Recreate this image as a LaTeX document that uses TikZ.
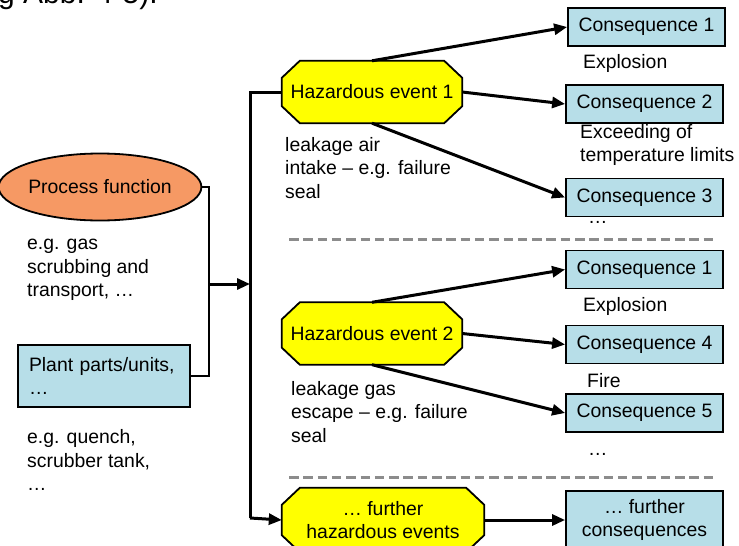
\documentclass[tikz,border=0pt]{standalone}
\usepackage{fontspec}
\setmainfont{Liberation Sans}
\usetikzlibrary{shapes.geometric,arrows.meta,backgrounds}
\definecolor{boxblue}{RGB}{183,222,232}
\definecolor{procorange}{RGB}{246,153,100}
\definecolor{hazyellow}{RGB}{255,255,0}
\definecolor{sepgrey}{RGB}{140,140,140}
\tikzset{
  txt/.style={font=\fontsize{19.4}{23.5}\selectfont},
  note/.style={txt, anchor=west, align=left, inner sep=0pt},
  consbox/.style={txt, draw=black, line width=1.8pt, fill=boxblue, minimum width=157pt, minimum height=38pt, inner sep=0pt, align=center},
  haznode/.style={txt, minimum width=180pt, minimum height=62pt, inner sep=0pt, align=center},
  octo/.style={draw=black, line width=1.8pt, fill=hazyellow},
  conn/.style={line width=3pt, -{Triangle[length=13pt,width=11pt]}},
  thinline/.style={line width=1.8pt},
  barline/.style={line width=3pt},
  sep/.style={line width=3pt, sepgrey, dash pattern=on 9.5pt off 4.8pt}
}
\newcommand\octshape[1]{%
  \begin{pgfonlayer}{background}
  \path[octo] ([xshift=18pt]#1.north west) -- ([xshift=-18pt]#1.north east)
    -- ([yshift=-17pt]#1.north east) -- ([yshift=17pt]#1.south east)
    -- ([xshift=-18pt]#1.south east) -- ([xshift=18pt]#1.south west)
    -- ([yshift=17pt]#1.south west) -- ([yshift=-17pt]#1.north west) -- cycle;
  \end{pgfonlayer}}
\begin{document}
\begin{tikzpicture}[x=1pt,y=-1pt]
\useasboundingbox (0,0) rectangle (739,546);

% clipped page text at the top
\node[anchor=base west, inner sep=0pt, font=\fontsize{30}{36}\selectfont] (frag) at (-2,3.5) {g Abb. 4-5).};

% left side
\node[txt, ellipse, draw=black, line width=1.8pt, fill=procorange, minimum width=176pt, minimum height=67pt, inner sep=0pt] (pf) at (100,187) {Process function};
\node[note] (t1) at (27,270) {e.g. gas\\scrubbing and\\transport, …};
\node[txt, draw=black, line width=1.8pt, fill=boxblue, minimum width=172pt, minimum height=62pt, inner xsep=11pt, inner ysep=0pt, text width=150pt, align=left] (pp) at (104,376) {Plant parts/units,\\…};
\node[note] (t2) at (27,460) {e.g. quench,\\scrubber tank,\\…};

% hazardous events
\node[haznode] (h1) at (372,92) {Hazardous event 1};
\octshape{h1}
\node[note] (t3) at (285,168) {leakage air\\intake – e.g. failure\\seal};
\node[haznode] (h2) at (372,333.5) {Hazardous event 2};
\octshape{h2}
\node[note] (t4) at (291,412) {leakage gas\\escape – e.g. failure\\seal};
\node[haznode, minimum width=202pt, minimum height=64pt] (h3) at (383,520) {… further\\hazardous events};
\octshape{h3}

% consequences
\node[consbox] (c1) at (646.5,27) {Consequence 1};
\node[note] (l1) at (583,63) {Explosion};
\node[consbox] (c2) at (644.5,104) {Consequence 2};
\node[note] (l2) at (580,145) {Exceeding of\\temperature limits};
\node[consbox] (c3) at (644.5,197.5) {Consequence 3};
\node[note] (l3) at (588,222) {…};
\node[consbox] (c1b) at (644.5,269.5) {Consequence 1};
\node[note] (l4) at (583,306) {Explosion};
\node[consbox] (c4) at (644.5,344.5) {Consequence 4};
\node[note] (l5) at (587,381) {Fire};
\node[consbox] (c5) at (644.5,413) {Consequence 5};
\node[note] (l6) at (588,454) {…};
\node[consbox, minimum height=58pt] (c6) at (644.5,520) {… further\\consequences};

% separators
\draw[sep] (289,239) -- (717,239);
\draw[sep] (289,477) -- (717,477);

% left connectors
\coordinate (j) at (209,284);
\coordinate (bj) at (250,284);
\coordinate (bt) at (250,518);
\draw[thinline] (pf.east) -| (j) |- (pp.east);
\draw[conn] (j) -- (bj);
\draw[barline] (h1.west) -| (bt);
\draw[conn] (bt) -- (h3.west);

% event to consequence connectors
\draw[conn] (h1.north) -- (c1.west);
\draw[conn] (h1.east) -- (c2.west);
\draw[conn] (h1.south) -- (c3.west);
\draw[conn] (h2.north) -- (c1b.west);
\draw[conn] (h2.east) -- (c4.west);
\draw[conn] (h2.south) -- (c5.west);
\draw[conn] (h3.east) -- (c6.west);
\end{tikzpicture}
\end{document}
